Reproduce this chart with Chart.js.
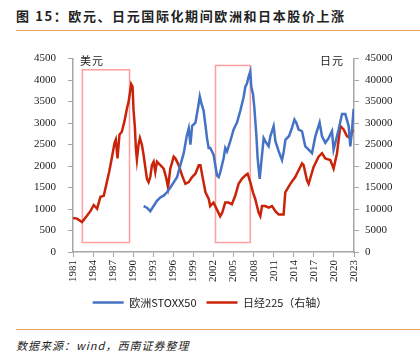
<!DOCTYPE html>
<html lang="zh">
<head>
<meta charset="UTF-8">
<title>图 15</title>
<style>
  html, body { margin: 0; padding: 0; background: #fff; }
  body { width: 420px; height: 362px; position: relative; overflow: hidden;
         font-family: "Noto Sans CJK SC", "Noto Sans", sans-serif; color: #222; }
  #title { position: absolute; left: 16px; top: 6px; font-size: 13px; font-weight: bold;
           letter-spacing: 1.6px; white-space: nowrap; }
  .rule { position: absolute; left: 16px; right: 0; height: 0; border-top: 1.5px solid #E0A45C; }
  #rule1 { top: 30px; }
  #rule2 { top: 329px; }
  #source { position: absolute; left: 16px; top: 337px; font-size: 11px; font-style: italic;
            letter-spacing: 1px; white-space: nowrap; }
  .unit { position: absolute; font-size: 11px; top: 52px; letter-spacing: 1px; }
  #unitL { left: 80px; }
  #unitR { left: 320px; }
  #wrap { position: absolute; left: 0; top: 40px; width: 420px; height: 282px; }
</style>
</head>
<body>
<div id="title">图 15：欧元、日元国际化期间欧洲和日本股价上涨</div>
<div class="rule" id="rule1"></div>
<div id="wrap"><canvas id="myChart"></canvas></div>
<div class="unit" id="unitL">美元</div>
<div class="unit" id="unitR">日元</div>
<div class="rule" id="rule2"></div>
<div id="source">数据来源：wind，西南证券整理</div>

<script src="https://cdn.jsdelivr.net/npm/chart.js"></script>
<script>
// 欧洲STOXX50 (left axis, 美元)
const stoxxYears = [1991.55, 1992.05, 1992.55, 1993.05, 1993.55, 1994.05, 1994.55, 1995.05, 1995.55,
  1996.05, 1996.55, 1997.05, 1997.55, 1998.0, 1998.3, 1998.55, 1998.8, 1999.3, 1999.7, 1999.95,
  2000.2, 2000.52, 2000.78, 2001.03, 2001.27, 2001.52, 2002.02, 2002.27, 2002.52, 2002.77, 2003.02,
  2003.51, 2003.76, 2004.02, 2004.51, 2005.01, 2005.51, 2006.01, 2006.5, 2006.75, 2007.0, 2007.25,
  2007.5, 2007.65, 2007.9, 2008.1, 2008.4, 2008.6, 2008.9, 2009.15, 2009.5, 2009.75, 2010.24,
  2010.5, 2010.99, 2011.25, 2011.75, 2012.24, 2012.5, 2012.75, 2013.3, 2013.75, 2014.1, 2014.4,
  2014.72, 2015.23, 2015.72, 2016.22, 2016.72, 2017.22, 2017.86, 2018.22, 2018.71, 2019.21,
  2019.71, 2019.95, 2020.21, 2020.7, 2021.21, 2021.7, 2022.2, 2022.45, 2022.7, 2022.95];
const stoxxValues = [1070, 1030, 950, 1070, 1190, 1270, 1310, 1390, 1500,
  1620, 1740, 2020, 2300, 2700, 2880, 2500, 2930, 3010, 3370, 3620,
  3450, 3290, 2970, 2650, 2420, 2420, 2260, 2020, 1780, 1740, 1860,
  2180, 2420, 2340, 2580, 2850, 3010, 3290, 3600, 3840, 3920, 4080,
  4200, 3840, 3680, 3370, 2730, 2180, 1700, 2100, 2650, 2575, 2460,
  2690, 2930, 2580, 2340, 2140, 2340, 2610, 2700, 2900, 3080, 3000,
  2850, 2810, 2460, 2380, 2300, 2690, 3010, 2690, 2540, 2650,
  2810, 2380, 2540, 2850, 3210, 3210, 2930, 2460, 2850, 3330];

// 日经225 (right axis, 日元)
const nikkeiYears = [1981.0, 1981.6, 1982.35, 1983.0, 1983.6, 1984.1, 1984.6, 1985.1, 1985.6, 1986.0,
  1986.4, 1986.8, 1987.2, 1987.4, 1987.65, 1987.95, 1988.3, 1988.7, 1989.1, 1989.3, 1989.7, 1989.9,
  1990.05, 1990.25, 1990.4, 1990.55, 1990.8, 1991.0, 1991.3, 1991.55, 1992.05, 1992.3, 1992.55,
  1992.8, 1993.05, 1993.3, 1993.55, 1994.05, 1994.55, 1994.9, 1995.2, 1995.55, 1996.05, 1996.3,
  1996.8, 1997.3, 1997.8, 1998.3, 1998.8, 1999.3, 1999.8, 2000.05, 2000.3, 2000.8, 2001.3, 2001.5,
  2002.0, 2002.5, 2003.0, 2003.3, 2003.75, 2004.25, 2004.75, 2005.25, 2005.75, 2006.25, 2006.75,
  2007.1, 2007.5, 2007.9, 2008.25, 2008.75, 2009.0, 2009.25, 2009.75, 2010.25, 2010.75, 2011.25,
  2011.75, 2012.48, 2012.73, 2013.48, 2014.22, 2015.23, 2015.47, 2015.98, 2016.22, 2016.96,
  2017.71, 2018.22, 2018.71, 2019.46, 2019.95, 2020.46, 2020.95, 2021.45, 2021.96, 2022.45, 2022.85];
const nikkeiValues = [7940, 7770, 6980, 8250, 9500, 10930, 10070, 12830, 13070, 15850,
  18620, 21790, 25350, 26140, 21790, 27320, 27970, 30500, 33670, 34860, 39060, 38500,
  33000, 29000, 24000, 21500, 25000, 26500, 24950, 22570, 17040, 16250, 17440,
  20200, 21000, 18630, 21000, 20200, 19410, 17440, 15060, 19410, 22190, 21790,
  20200, 17820, 15850, 16250, 17440, 18220, 20200, 20200, 18000, 13880, 12280, 10690,
  11500, 9910, 8320, 9120, 11500, 11500, 11100, 13070, 15850, 17040, 17820,
  18220, 16250, 13880, 12280, 9120, 8320, 10690, 10690, 10310, 10690, 9500,
  8720, 8720, 13880, 15850, 17440, 20600, 20200, 16630, 15850, 19800,
  22190, 22980, 21790, 21390, 19410, 22980, 29320, 28520, 26940, 26540, 28520];

// highlighted periods (red boxes), in years and left-axis values
const boxYears = [[1982.4, 1989.45], [2002.3, 2007.5]];
const boxValues = [[220, 4240], [220, 4340]];

const seriesNames = ['欧洲STOXX50', '日经225（右轴）'];

function toPoints(xs, ys) {
  return xs.map((x, i) => ({ x: x, y: ys[i] }));
}

const boxPlugin = {
  id: 'boxes',
  beforeDatasetsDraw(chart) {
    const ctx = chart.ctx;
    const xs = chart.scales.x, ys = chart.scales.y;
    ctx.save();
    ctx.strokeStyle = '#FF9E9E';
    ctx.lineWidth = 1.5;
    boxYears.forEach((b, i) => {
      const x1 = xs.getPixelForValue(b[0]), x2 = xs.getPixelForValue(b[1]);
      const y1 = ys.getPixelForValue(boxValues[i][1]), y2 = ys.getPixelForValue(boxValues[i][0]);
      ctx.strokeRect(x1, y1, x2 - x1, y2 - y1);
    });
    ctx.restore();
  }
};

const tickFont = { family: 'Liberation Serif', size: 11 };
const axisColor = '#A6A6A6';

new Chart(document.getElementById('myChart'), {
  type: 'line',
  data: {
    datasets: [{
      label: seriesNames[0],
      data: toPoints(stoxxYears, stoxxValues),
      borderColor: '#4472C4',
      backgroundColor: '#4472C4',
      borderWidth: 2.5,
      pointRadius: 0,
      yAxisID: 'y'
    }, {
      label: seriesNames[1],
      data: toPoints(nikkeiYears, nikkeiValues),
      borderColor: '#C9240A',
      backgroundColor: '#C9240A',
      borderWidth: 2.5,
      pointRadius: 0,
      yAxisID: 'y1'
    }]
  },
  options: {
    responsive: true,
    maintainAspectRatio: false,
    animation: false,
    layout: { padding: { top: 17, bottom: 4, left: 0, right: 0 } },
    plugins: {
      legend: {
        position: 'bottom',
        labels: {
          boxWidth: 31, boxHeight: 2.5, padding: 10, color: '#222',
          font: { family: 'Noto Sans CJK SC', size: 11 },
          generateLabels: chart => Chart.defaults.plugins.legend.labels.generateLabels(chart)
            .map(item => Object.assign(item, { lineWidth: 0 }))
        }
      },
      tooltip: { enabled: false }
    },
    scales: {
      x: {
        type: 'linear',
        min: 1981, max: 2023,
        afterFit: s => { s.height = 35; },
        ticks: { stepSize: 3, minRotation: 90, maxRotation: 90, padding: 3, color: '#222',
                 font: tickFont, callback: v => String(v) },
        grid: { drawOnChartArea: false, tickLength: 5, color: axisColor },
        border: { color: axisColor, width: 1.5 }
      },
      y: {
        position: 'left',
        min: 0, max: 4500,
        afterFit: s => { s.width = 73; },
        ticks: { stepSize: 500, padding: 12, color: '#222', font: tickFont, callback: v => String(v) },
        grid: { drawOnChartArea: false, tickLength: 5, color: axisColor },
        border: { color: axisColor, width: 1.5 }
      },
      y1: {
        position: 'right',
        min: 0, max: 45000,
        afterFit: s => { s.width = 66; },
        ticks: { stepSize: 5000, padding: 6, color: '#222', font: tickFont, callback: v => String(v) },
        grid: { drawOnChartArea: false, tickLength: 5, color: axisColor },
        border: { color: axisColor, width: 1.5 }
      }
    }
  },
  plugins: [boxPlugin]
});
</script>
</body>
</html>
